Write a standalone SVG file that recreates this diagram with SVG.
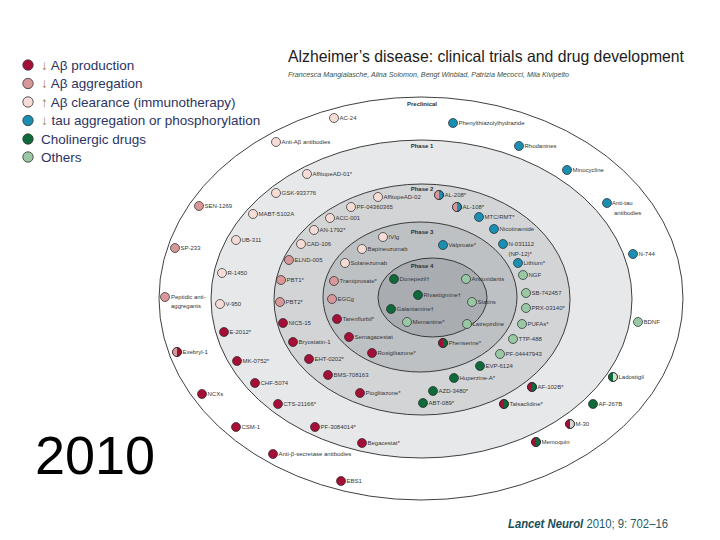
<svg xmlns="http://www.w3.org/2000/svg" width="720" height="540" viewBox="0 0 720 540">
<style>
.bg{fill:#ffffff}
.ring{stroke:#2a2a2a;stroke-width:0.9}
.r0{fill:#ffffff}
.r1{fill:#e7e8e9}
.r2{fill:#d2d4d6}
.r3{fill:#bec1c4}
.r4{fill:#a9adb1}
.nd circle{stroke:#262626;stroke-width:0.7}
.nd circle.ol{fill:none}
.p{fill:#a50f37}
.ag{fill:#d8979a}
.cl{fill:#f6dcd7}
.tau{fill:#1b8fb3}
.ch{fill:#0f6a3b}
.ot{fill:#9ac8a5}
.lg{fill:#cfe3d3}
.gy{fill:#d5d9d6}
.lb{font-family:"Liberation Sans",Arial,sans-serif;font-size:6px;fill:#363636}
.ph{font-family:"Liberation Sans",Arial,sans-serif;font-size:6px;font-weight:bold;fill:#303030;text-anchor:middle}
.leg circle{stroke:#333;stroke-width:0.8}
.lt{font-family:"Liberation Sans",Arial,sans-serif;font-size:13.5px;fill:#2b3563}
.ar{fill:#9a7b3c}
</style>
<defs>
<path id="hl" d="M0,-4.5A4.5,4.5 0 0 0 0,4.5Z"/>
</defs>
<rect class="bg" x="0" y="0" width="720" height="540"/>

<g id="title">
<text x="288" y="62" font-family="'Liberation Sans',Arial,sans-serif" font-size="16.5" fill="#1c1c1c" textLength="396" lengthAdjust="spacingAndGlyphs">Alzheimer’s disease: clinical trials and drug development</text>
<text x="288" y="77" font-family="'Liberation Sans',Arial,sans-serif" font-size="6.8" font-style="italic" fill="#3c5040" textLength="281" lengthAdjust="spacingAndGlyphs">Francesca Mangialasche, Alina Solomon, Bengt Winblad, Patrizia Mecocci, Miia Kivipelto</text>
</g>

<g id="legend" class="leg">
<circle class="p" cx="28" cy="65" r="5.2"/>
<circle class="ag" cx="28" cy="83.5" r="5.2"/>
<circle class="cl" cx="28" cy="102" r="5.2"/>
<circle class="tau" cx="28" cy="120.5" r="5.2"/>
<circle class="ch" cx="28" cy="139" r="5.2"/>
<circle class="ot" cx="28" cy="157" r="5.2"/>
<text class="lt" x="41" y="69.5"><tspan class="ar">↓</tspan> Aβ production</text>
<text class="lt" x="41" y="88"><tspan class="ar">↓</tspan> Aβ aggregation</text>
<text class="lt" x="41" y="106.5"><tspan class="ar">↑</tspan> Aβ clearance (immunotherapy)</text>
<text class="lt" x="41" y="125"><tspan class="ar">↓</tspan> tau aggregation or phosphorylation</text>
<text class="lt" x="41" y="143.5">Cholinergic drugs</text>
<text class="lt" x="41" y="161.5">Others</text>
</g>

<g id="rings">
<ellipse class="ring r0" cx="421" cy="298.5" rx="262" ry="201.5"/>
<ellipse class="ring r1" cx="421.5" cy="299" rx="210.5" ry="159"/>
<ellipse class="ring r2" cx="422" cy="299.5" rx="148" ry="115.5"/>
<ellipse class="ring r3" cx="420" cy="297" rx="97" ry="75"/>
<ellipse class="ring r4" cx="432.5" cy="297.5" rx="54.5" ry="39.5"/>
<text class="ph" x="422" y="106">Preclinical</text>
<text class="ph" x="422" y="148">Phase 1</text>
<text class="ph" x="422" y="191">Phase 2</text>
<text class="ph" x="422" y="234">Phase 3</text>
<text class="ph" x="422" y="268">Phase 4</text>
</g>

<g id="connectors"/>

<g id="nodes">
<!-- Preclinical -->
<g id="n-ac24" class="nd"><circle class="cl" cx="334" cy="118" r="4.5"/><text class="lb" x="339.5" y="120">AC-24</text></g>
<g id="n-antiab" class="nd"><circle class="cl" cx="276" cy="142" r="4.5"/><text class="lb" x="281.5" y="144">Anti-Aβ antibodies</text></g>
<g id="n-phenyl" class="nd"><circle class="tau" cx="453" cy="123" r="4.5"/><text class="lb" x="458.5" y="125">Phenylthiazolylhydrazide</text></g>
<g id="n-rhod" class="nd"><circle class="tau" cx="519" cy="146" r="4.5"/><text class="lb" x="524.5" y="148">Rhodanines</text></g>
<g id="n-mino" class="nd"><circle class="tau" cx="567" cy="170" r="4.5"/><text class="lb" x="572.5" y="172">Minocycline</text></g>
<g id="n-antitau" class="nd"><circle class="tau" cx="607" cy="203" r="4.5"/><text class="lb" x="612" y="205">Anti-tau</text><text class="lb" x="614" y="215">antibodies</text></g>
<g id="n-sen1269" class="nd"><circle class="ag" cx="199" cy="206" r="4.5"/><text class="lb" x="204.5" y="208">SEN-1269</text></g>
<g id="n-sp233" class="nd"><circle class="ag" cx="175" cy="248" r="4.5"/><text class="lb" x="180.5" y="250">SP-233</text></g>
<g id="n-peptidic" class="nd"><circle class="ag" cx="165" cy="297" r="4.5"/><text class="lb" x="171" y="299">Peptidic anti-</text><text class="lb" x="171" y="308">aggregants</text></g>
<g id="n-exebryl" class="nd"><circle class="p" cx="177" cy="352" r="4.5"/><use href="#hl" x="177" y="352" class="ag"/><circle class="ol" cx="177" cy="352" r="4.5"/><text class="lb" x="182.5" y="354">Exebryl-1</text></g>
<g id="n-ncxs" class="nd"><circle class="p" cx="202" cy="394" r="4.5"/><text class="lb" x="207.5" y="396">NCXs</text></g>
<g id="n-csm1" class="nd"><circle class="p" cx="236" cy="427" r="4.5"/><text class="lb" x="241.5" y="429">CSM-1</text></g>
<g id="n-antibsec" class="nd"><circle class="p" cx="273" cy="454" r="4.5"/><text class="lb" x="278.5" y="456">Anti-β-secretase antibodies</text></g>
<g id="n-ebs1" class="nd"><circle class="p" cx="341" cy="481" r="4.5"/><text class="lb" x="346.5" y="483">EBS1</text></g>
<g id="n-n744" class="nd"><circle class="tau" cx="633" cy="254" r="4.5"/><text class="lb" x="638.5" y="256">N-744</text></g>
<g id="n-bdnf" class="nd"><circle class="ot" cx="638" cy="322" r="4.5"/><text class="lb" x="643.5" y="324">BDNF</text></g>
<g id="n-ladostigil" class="nd"><circle class="lg" cx="613" cy="377" r="4.5"/><use href="#hl" x="613" y="377" class="ch"/><circle class="ol" cx="613" cy="377" r="4.5"/><text class="lb" x="618.5" y="379">Ladostigil</text></g>
<g id="n-af267b" class="nd"><circle class="ch" cx="593" cy="404" r="4.5"/><text class="lb" x="598.5" y="406">AF-267B</text></g>
<g id="n-m30" class="nd"><circle class="gy" cx="570" cy="424" r="4.5"/><use href="#hl" x="570" y="424" class="p"/><circle class="ol" cx="570" cy="424" r="4.5"/><text class="lb" x="575.5" y="426">M-30</text></g>
<g id="n-memoquin" class="nd"><circle class="ch" cx="536" cy="442" r="4.5"/><use href="#hl" x="536" y="442" class="p"/><circle class="ol" cx="536" cy="442" r="4.5"/><text class="lb" x="541.5" y="444">Memoquin</text></g>

<!-- Phase 1 -->
<g id="n-affitope01" class="nd"><circle class="cl" cx="307" cy="174" r="4.5"/><text class="lb" x="312.5" y="176">AffitopeAD-01*</text></g>
<g id="n-gsk" class="nd"><circle class="cl" cx="276" cy="193" r="4.5"/><text class="lb" x="281.5" y="195">GSK-933776</text></g>
<g id="n-mabt" class="nd"><circle class="cl" cx="253" cy="214" r="4.5"/><text class="lb" x="258.5" y="216">MABT-5102A</text></g>
<g id="n-ub311" class="nd"><circle class="cl" cx="236" cy="240" r="4.5"/><text class="lb" x="241.5" y="242">UB-311</text></g>
<g id="n-r1450" class="nd"><circle class="cl" cx="222" cy="273" r="4.5"/><text class="lb" x="227.5" y="275">R-1450</text></g>
<g id="n-v950" class="nd"><circle class="cl" cx="220" cy="304" r="4.5"/><text class="lb" x="225.5" y="306">V-950</text></g>
<g id="n-e2012" class="nd"><circle class="p" cx="224" cy="332" r="4.5"/><text class="lb" x="229.5" y="334">E-2012*</text></g>
<g id="n-mk0752" class="nd"><circle class="p" cx="237" cy="361" r="4.5"/><text class="lb" x="242.5" y="363">MK-0752*</text></g>
<g id="n-chf5074" class="nd"><circle class="p" cx="255" cy="383" r="4.5"/><text class="lb" x="260.5" y="385">CHF-5074</text></g>
<g id="n-cts21166" class="nd"><circle class="p" cx="278" cy="404" r="4.5"/><text class="lb" x="283.5" y="406">CTS-21166*</text></g>
<g id="n-pf3084014" class="nd"><circle class="p" cx="315" cy="427" r="4.5"/><text class="lb" x="320.5" y="429">PF-3084014*</text></g>
<g id="n-begacestat" class="nd"><circle class="p" cx="362" cy="443" r="4.5"/><text class="lb" x="367.5" y="445">Begacestat*</text></g>
<g id="n-talsaclidine" class="nd"><circle class="ch" cx="504" cy="404" r="4.5"/><use href="#hl" x="504" y="404" class="p"/><circle class="ol" cx="504" cy="404" r="4.5"/><text class="lb" x="509.5" y="406">Talsaclidine*</text></g>
<g id="n-af102b" class="nd"><circle class="ch" cx="532" cy="387" r="4.5"/><use href="#hl" x="532" y="387" class="p"/><circle class="ol" cx="532" cy="387" r="4.5"/><text class="lb" x="537.5" y="389">AF-102B*</text></g>

<!-- Phase 2 -->
<g id="n-affitope02" class="nd"><circle class="cl" cx="378" cy="197" r="4.5"/><text class="lb" x="383.5" y="199">AffitopeAD-02</text></g>
<g id="n-pf04360365" class="nd"><circle class="cl" cx="351" cy="207" r="4.5"/><text class="lb" x="356.5" y="209">PF-04360365</text></g>
<g id="n-acc001" class="nd"><circle class="cl" cx="330" cy="218" r="4.5"/><text class="lb" x="335.5" y="220">ACC-001</text></g>
<g id="n-an1792" class="nd"><circle class="cl" cx="314" cy="230" r="4.5"/><text class="lb" x="319.5" y="232">AN-1792*</text></g>
<g id="n-cad106" class="nd"><circle class="cl" cx="301" cy="244" r="4.5"/><text class="lb" x="306.5" y="246">CAD-106</text></g>
<g id="n-elnd005" class="nd"><circle class="ag" cx="289" cy="260" r="4.5"/><text class="lb" x="294.5" y="262">ELND-005</text></g>
<g id="n-pbt1" class="nd"><circle class="ag" cx="281" cy="280" r="4.5"/><text class="lb" x="286.5" y="282">PBT1*</text></g>
<g id="n-pbt2" class="nd"><circle class="ag" cx="280" cy="302" r="4.5"/><text class="lb" x="285.5" y="304">PBT2*</text></g>
<g id="n-nic515" class="nd"><circle class="p" cx="283" cy="323" r="4.5"/><text class="lb" x="288.5" y="325">NIC5-15</text></g>
<g id="n-bryostatin" class="nd"><circle class="p" cx="293" cy="342" r="4.5"/><text class="lb" x="298.5" y="344">Bryostatin-1</text></g>
<g id="n-eht0202" class="nd"><circle class="p" cx="309" cy="359" r="4.5"/><text class="lb" x="314.5" y="361">EHT-0202*</text></g>
<g id="n-bms708163" class="nd"><circle class="p" cx="328" cy="375" r="4.5"/><text class="lb" x="333.5" y="377">BMS-708163</text></g>
<g id="n-pioglitazone" class="nd"><circle class="p" cx="360" cy="393" r="4.5"/><text class="lb" x="365.5" y="395">Pioglitazone*</text></g>
<g id="n-abt089" class="nd"><circle class="ch" cx="423" cy="403" r="4.5"/><text class="lb" x="428.5" y="405">ABT-089*</text></g>
<g id="n-azd3480" class="nd"><circle class="ch" cx="433" cy="391" r="4.5"/><text class="lb" x="438.5" y="393">AZD-3480*</text></g>
<g id="n-huperzine" class="nd"><circle class="ch" cx="454" cy="378" r="4.5"/><text class="lb" x="459.5" y="380">Huperzine-A*</text></g>
<g id="n-evp6124" class="nd"><circle class="ch" cx="480" cy="366" r="4.5"/><text class="lb" x="485.5" y="368">EVP-6124</text></g>
<g id="n-pf04447943" class="nd"><circle class="ot" cx="500" cy="354" r="4.5"/><text class="lb" x="505.5" y="356">PF-04447943</text></g>
<g id="n-ttp488" class="nd"><circle class="ot" cx="513" cy="339" r="4.5"/><text class="lb" x="518.5" y="341">TTP-488</text></g>
<g id="n-pufas" class="nd"><circle class="ot" cx="522" cy="324" r="4.5"/><text class="lb" x="527.5" y="326">PUFAs*</text></g>
<g id="n-prx03140" class="nd"><circle class="ot" cx="526" cy="308" r="4.5"/><text class="lb" x="531.5" y="310">PRX-03140*</text></g>
<g id="n-sb742457" class="nd"><circle class="ot" cx="526" cy="293" r="4.5"/><text class="lb" x="531.5" y="295">SB-742457</text></g>
<g id="n-ngf" class="nd"><circle class="ot" cx="523" cy="275" r="4.5"/><text class="lb" x="528.5" y="277">NGF</text></g>
<g id="n-lithium" class="nd"><circle class="tau" cx="518" cy="263" r="4.5"/><text class="lb" x="523.5" y="265">Lithium*</text></g>
<g id="n-np12" class="nd"><circle class="tau" cx="503" cy="244" r="4.5"/><text class="lb" x="508.5" y="246">N-031112</text><text class="lb" x="508.5" y="256">(NP-12)*</text></g>
<g id="n-nicotinamide" class="nd"><circle class="tau" cx="494" cy="229" r="4.5"/><text class="lb" x="499.5" y="231">Nicotinamide</text></g>
<g id="n-mtc" class="nd"><circle class="tau" cx="479" cy="217" r="4.5"/><text class="lb" x="484.5" y="219">MTC/RMT*</text></g>
<g id="n-al108" class="nd"><circle class="tau" cx="457" cy="207" r="4.5"/><use href="#hl" x="457" y="207" class="ag"/><circle class="ol" cx="457" cy="207" r="4.5"/><text class="lb" x="462.5" y="209">AL-108*</text></g>
<g id="n-al208" class="nd"><circle class="tau" cx="439" cy="195" r="4.5"/><use href="#hl" x="439" y="195" class="ag"/><circle class="ol" cx="439" cy="195" r="4.5"/><text class="lb" x="444.5" y="197">AL-208*</text></g>

<!-- Phase 3 -->
<g id="n-ivig" class="nd"><circle class="cl" cx="383" cy="237" r="4.5"/><text class="lb" x="388.5" y="239">IVIg</text></g>
<g id="n-bapineuzumab" class="nd"><circle class="cl" cx="362" cy="249" r="4.5"/><text class="lb" x="367.5" y="251">Bapineuzumab</text></g>
<g id="n-solanezumab" class="nd"><circle class="cl" cx="345" cy="263" r="4.5"/><text class="lb" x="350.5" y="265">Solanezumab</text></g>
<g id="n-tramiprosate" class="nd"><circle class="ag" cx="334" cy="281" r="4.5"/><text class="lb" x="339.5" y="283">Tramiprosate*</text></g>
<g id="n-egcg" class="nd"><circle class="ag" cx="332" cy="299" r="4.5"/><text class="lb" x="337.5" y="301">EGCg</text></g>
<g id="n-tarenflurbil" class="nd"><circle class="p" cx="337" cy="319" r="4.5"/><text class="lb" x="342.5" y="321">Tarenflurbil*</text></g>
<g id="n-semagacestat" class="nd"><circle class="p" cx="349" cy="337" r="4.5"/><text class="lb" x="354.5" y="339">Semagacestat</text></g>
<g id="n-rosiglitazone" class="nd"><circle class="p" cx="372" cy="353" r="4.5"/><text class="lb" x="377.5" y="355">Rosiglitazone*</text></g>
<g id="n-phenserine" class="nd"><circle class="ch" cx="443" cy="343" r="4.5"/><use href="#hl" x="443" y="343" class="p"/><circle class="ol" cx="443" cy="343" r="4.5"/><text class="lb" x="448.5" y="345">Phenserine*</text></g>
<g id="n-latrepirdine" class="nd"><circle class="ot" cx="467" cy="324" r="4.5"/><text class="lb" x="472.5" y="326">Latrepirdine</text></g>
<g id="n-statins" class="nd"><circle class="ot" cx="472" cy="302" r="4.5"/><text class="lb" x="477.5" y="304">Statins</text></g>
<g id="n-antioxidants" class="nd"><circle class="ot" cx="466" cy="279" r="4.5"/><text class="lb" x="471.5" y="281">Antioxidants</text></g>
<g id="n-valproate" class="nd"><circle class="tau" cx="443" cy="245" r="4.5"/><text class="lb" x="448.5" y="247">Valproate*</text></g>

<!-- Phase 4 -->
<g id="n-donepezil" class="nd"><circle class="ch" cx="394" cy="279" r="4.5"/><text class="lb" x="399.5" y="281">Donepezil†</text></g>
<g id="n-rivastigmine" class="nd"><circle class="ch" cx="418" cy="295" r="4.5"/><text class="lb" x="423.5" y="297">Rivastigmine†</text></g>
<g id="n-galantamine" class="nd"><circle class="ch" cx="391" cy="309" r="4.5"/><text class="lb" x="396.5" y="311">Galantamine†</text></g>
<g id="n-memantine" class="nd"><circle class="ot" cx="407" cy="322" r="4.5"/><text class="lb" x="412.5" y="324">Memantine*</text></g>
</g>

<g id="footer">
<text x="35" y="474" font-family="'Liberation Sans',Arial,sans-serif" font-size="54" fill="#000000">2010</text>
<text x="508" y="528" font-family="'Liberation Sans',Arial,sans-serif" font-size="12" fill="#1f5b66" textLength="160" lengthAdjust="spacingAndGlyphs"><tspan font-style="italic" font-weight="bold" fill="#184d57">Lancet Neurol</tspan> 2010; 9: 702–16</text>
</g>
</svg>
